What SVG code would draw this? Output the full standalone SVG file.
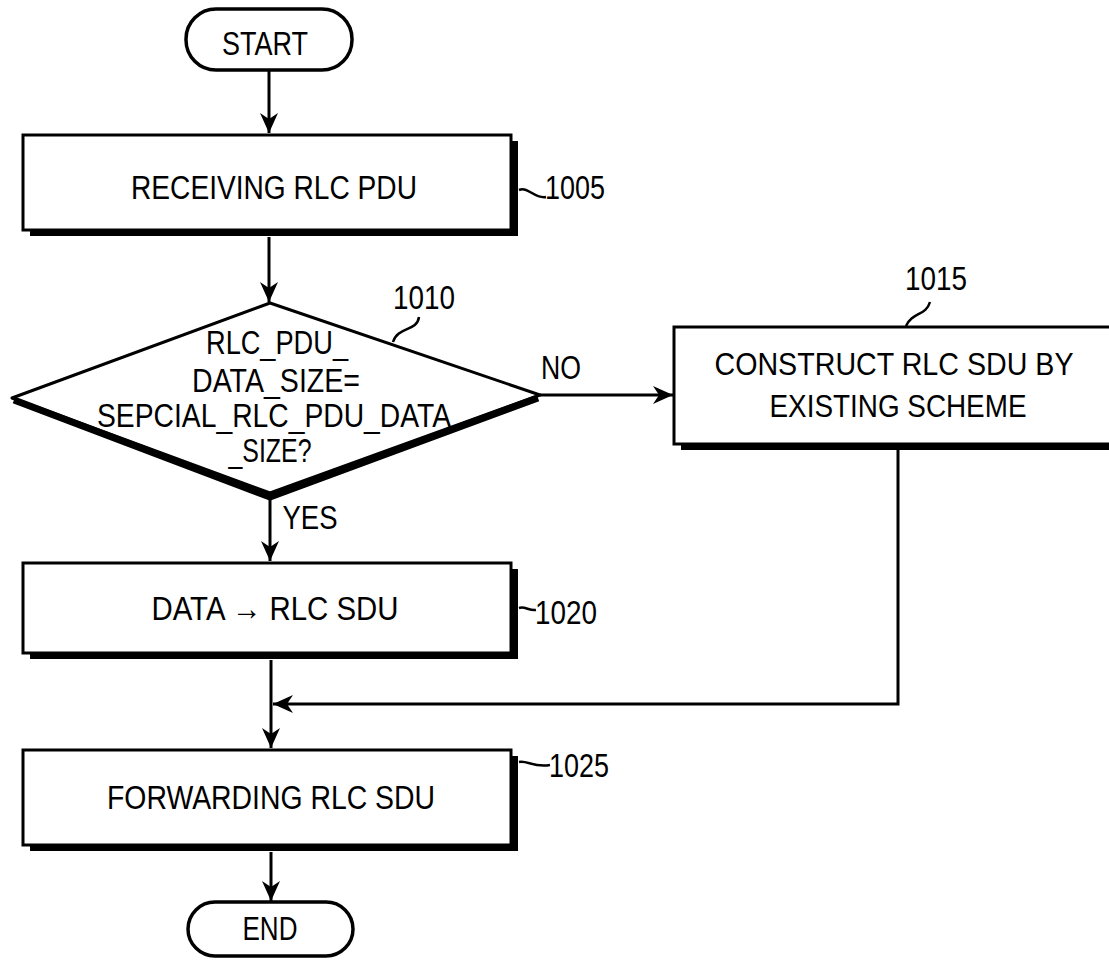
<svg xmlns="http://www.w3.org/2000/svg" width="1109" height="967" viewBox="0 0 1109 967">
<style>
  .t { font-family: "Liberation Sans", Arial, sans-serif; font-size: 34px; fill: #000; }
  .s { font-size: 32px; }
  .m { text-anchor: middle; }
  .box { fill: #fff; stroke: #000; stroke-width: 3; }
  .sh { fill: #000; }
  .ln { fill: none; stroke: #000; stroke-width: 3; }
  .lead { fill: none; stroke: #000; stroke-width: 2.5; }
</style>
<defs>
  <marker id="arr" markerWidth="24" markerHeight="20" refX="20" refY="10" orient="auto" markerUnits="userSpaceOnUse">
    <path d="M20,10 L0,1 L6,10 L0,19 Z" fill="#000"/>
  </marker>
</defs>
<rect width="1109" height="967" fill="#fff"/>

<g id="connectors">
  <line class="ln" x1="269" y1="70" x2="269" y2="133" marker-end="url(#arr)"/>
  <line class="ln" x1="269" y1="237" x2="269" y2="302" marker-end="url(#arr)"/>
  <line class="ln" x1="270" y1="496" x2="270" y2="561" marker-end="url(#arr)"/>
  <line class="ln" x1="540" y1="395" x2="673" y2="395" marker-end="url(#arr)"/>
  <line class="ln" x1="271" y1="660" x2="271" y2="748" marker-end="url(#arr)"/>
  <polyline class="ln" points="898,450 898,704 273,704" marker-end="url(#arr)"/>
  <line class="ln" x1="271" y1="852" x2="271" y2="901" marker-end="url(#arr)"/>
</g>

<g id="start">
  <rect x="186" y="9" width="166" height="61" rx="30" ry="30" fill="#fff" stroke="#000" stroke-width="3.5"/>
  <text class="t m" x="265" y="55" textLength="86" lengthAdjust="spacingAndGlyphs">START</text>
</g>

<g id="n1005">
  <rect class="sh" x="30" y="141" width="488" height="95"/>
  <rect class="box" x="23" y="135" width="488" height="95"/>
  <text class="t m" x="274" y="199" textLength="286" lengthAdjust="spacingAndGlyphs">RECEIVING RLC PDU</text>
  <path class="lead" d="M519,190 C528,186 534,199 546,197"/>
  <text class="t" x="545" y="199" textLength="60" lengthAdjust="spacingAndGlyphs">1005</text>
</g>

<g id="n1010">
  <polyline points="14,400 270,497 538,398" fill="none" stroke="#000" stroke-width="7" stroke-linejoin="round"/>
  <polygon points="270,303 540,395 270,493 12,398" fill="none" stroke="#000" stroke-width="3" stroke-linejoin="round"/>
  <text class="t m" x="277" y="354" textLength="142" lengthAdjust="spacingAndGlyphs">RLC_PDU_</text>
  <text class="t m" x="276" y="392" textLength="168" lengthAdjust="spacingAndGlyphs">DATA_SIZE=</text>
  <text class="t m" x="274" y="427" textLength="354" lengthAdjust="spacingAndGlyphs">SEPCIAL_RLC_PDU_DATA</text>
  <text class="t m" x="270" y="462" textLength="83" lengthAdjust="spacingAndGlyphs">_SIZE?</text>
  <path class="lead" d="M419,317 C417,332 398,326 393,342"/>
  <text class="t" x="393" y="309" textLength="62" lengthAdjust="spacingAndGlyphs">1010</text>
  <text class="t m" x="561" y="379" textLength="40" lengthAdjust="spacingAndGlyphs">NO</text>
  <text class="t m" x="310" y="529" textLength="55" lengthAdjust="spacingAndGlyphs">YES</text>
</g>

<g id="n1015">
  <rect class="sh" x="681" y="444" width="428" height="6"/>
  <path d="M1109,327 H674 V444 H1109" fill="#fff" stroke="#000" stroke-width="3"/>
  <text class="t s m" x="894" y="375" textLength="359" lengthAdjust="spacingAndGlyphs">CONSTRUCT RLC SDU BY</text>
  <text class="t s m" x="898" y="417" textLength="257" lengthAdjust="spacingAndGlyphs">EXISTING SCHEME</text>
  <path class="lead" d="M930,302 C926,316 912,312 906,326"/>
  <text class="t" x="905" y="290" textLength="62" lengthAdjust="spacingAndGlyphs">1015</text>
</g>

<g id="n1020">
  <rect class="sh" x="30" y="569" width="488" height="90"/>
  <rect class="box" x="23" y="563" width="488" height="90"/>
  <text class="t m" x="275" y="620" textLength="247" lengthAdjust="spacingAndGlyphs">DATA → RLC SDU</text>
  <path class="lead" d="M519,608 C525,606 529,611 536,610"/>
  <text class="t" x="535" y="624" textLength="62" lengthAdjust="spacingAndGlyphs">1020</text>
</g>

<g id="n1025">
  <rect class="sh" x="30" y="756" width="488" height="95"/>
  <rect class="box" x="23" y="750" width="488" height="95"/>
  <text class="t m" x="271" y="809" textLength="328" lengthAdjust="spacingAndGlyphs">FORWARDING RLC SDU</text>
  <path class="lead" d="M519,762 C527,760 534,768 550,765"/>
  <text class="t" x="549" y="777" textLength="60" lengthAdjust="spacingAndGlyphs">1025</text>
</g>

<g id="end">
  <rect x="188" y="902" width="165" height="54" rx="27" ry="27" fill="#fff" stroke="#000" stroke-width="3.5"/>
  <text class="t m" x="270" y="940" textLength="55" lengthAdjust="spacingAndGlyphs">END</text>
</g>
</svg>
